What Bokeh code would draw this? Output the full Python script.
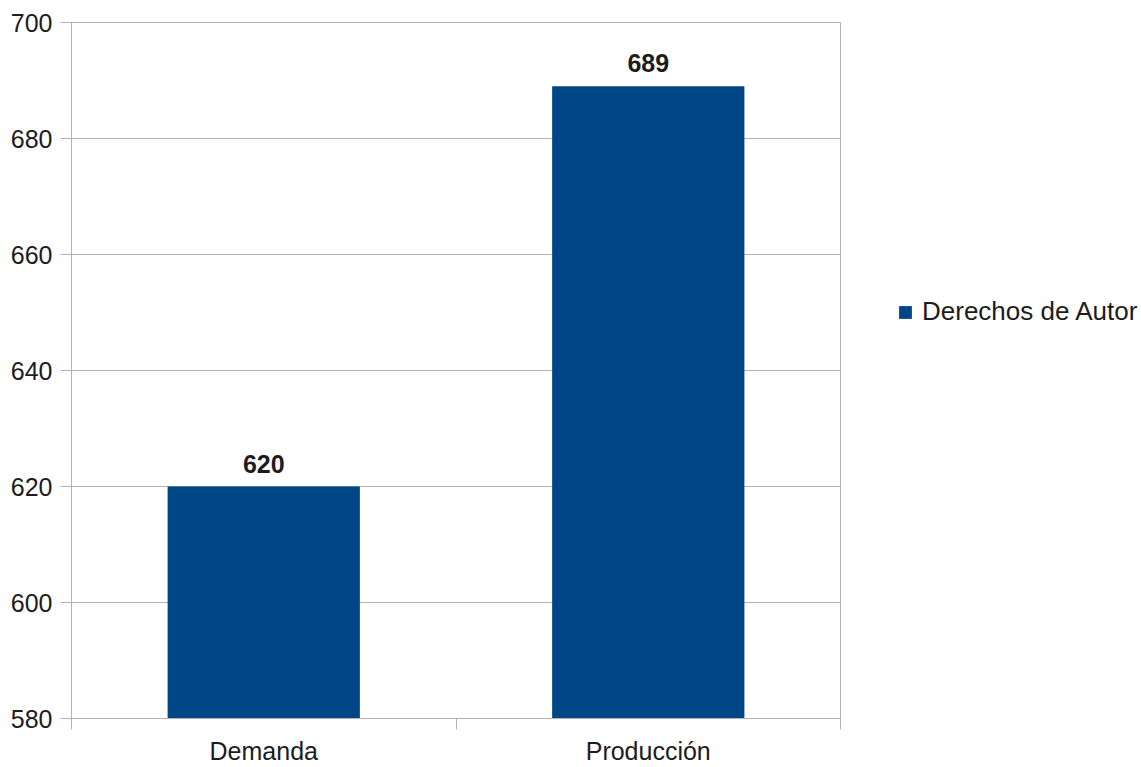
from bokeh.plotting import figure
from bokeh.models import Range1d, FixedTicker, Legend, LegendItem, LabelSet, ColumnDataSource
from bokeh.core.properties import value
from bokeh.embed import file_html
from bokeh.resources import INLINE

categories = ["Demanda", "Producción"]
values = [620, 689]
series_name = "Derechos de Autor"
y_ticks = [580, 600, 620, 640, 660, 680, 700]

BAR = "#004586"
GRID = "#b3b3b3"
TXT = "#1c1c1c"
FONT = "Liberation Sans"

centers = [i + 0.5 for i in range(len(categories))]
edges = [i for i in range(len(categories) + 1)]

src = ColumnDataSource(dict(x=centers, value=values, label=[str(v) for v in values]))

p = figure(frame_width=769, frame_height=696,
           x_range=Range1d(0, len(categories)),
           y_range=Range1d(y_ticks[0], y_ticks[-1]),
           output_backend="svg", toolbar_location=None,
           min_border_left=71, min_border_right=301,
           min_border_top=22, min_border_bottom=49)

r = p.vbar(x="x", top="value", width=0.5, source=src, fill_color=BAR, line_color=None)

p.xgrid.visible = False
p.ygrid.ticker = FixedTicker(ticks=y_ticks)
p.ygrid.grid_line_color = GRID
p.outline_line_color = GRID

ya = p.yaxis[0]
ya.ticker = FixedTicker(ticks=y_ticks)
ya.major_tick_out = 11
ya.major_tick_in = 0
ya.minor_tick_out = 0
ya.minor_tick_in = 0
ya.axis_line_color = GRID
ya.major_tick_line_color = GRID
ya.major_label_text_font = FONT
ya.major_label_text_font_size = "25px"
ya.major_label_text_color = TXT
ya.major_label_standoff = 8

xa = p.xaxis[0]
xa.ticker = FixedTicker(ticks=centers, minor_ticks=edges)
xa.major_label_overrides = {c: name for c, name in zip(centers, categories)}
xa.major_tick_out = 0
xa.major_tick_in = 0
xa.minor_tick_out = 11
xa.minor_tick_in = 0
xa.minor_tick_line_color = GRID
xa.axis_line_color = GRID
xa.major_label_text_font = FONT
xa.major_label_text_font_size = "25px"
xa.major_label_text_color = TXT
xa.major_label_standoff = 7

labels = LabelSet(x="x", y="value", text="label", source=src,
                  text_align="center", text_baseline="alphabetic", y_offset=14,
                  text_font=value(FONT), text_font_size=value("25px"),
                  text_font_style="bold", text_color=TXT)
p.add_layout(labels)

legend = Legend(items=[LegendItem(label=series_name, renderers=[r])],
                location=(57, 391), padding=0, margin=0, spacing=0,
                glyph_width=16, glyph_height=16, label_standoff=9,
                label_text_font=FONT, label_text_font_size="26px",
                label_text_color=TXT,
                border_line_color=None, background_fill_alpha=0)
p.add_layout(legend, "right")

open("out.html", "w").write(file_html(p, INLINE))
